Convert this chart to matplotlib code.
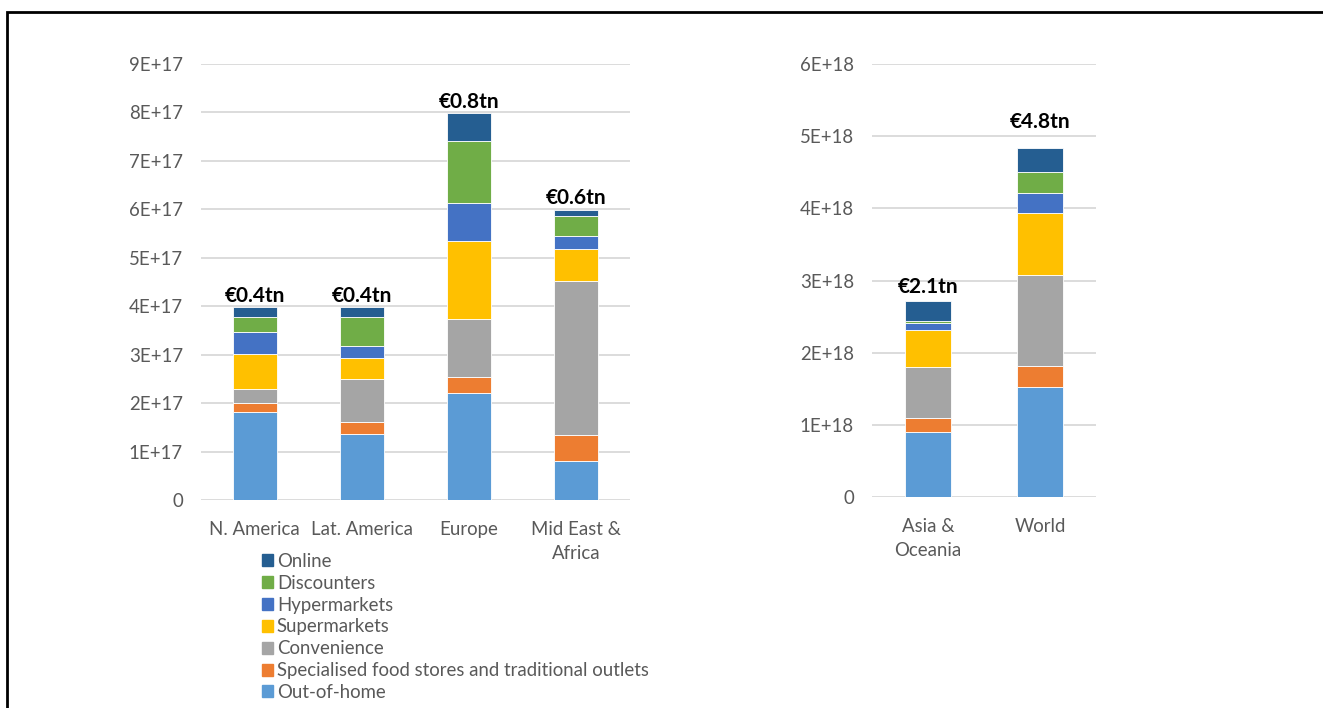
import matplotlib.pyplot as plt
import matplotlib.patches as mpatches
from matplotlib.ticker import FuncFormatter, MultipleLocator

plt.rcParams['font.family'] = ['Lato', 'DejaVu Sans']

channels = ['Out-of-home', 'Specialised food stores and traditional outlets',
            'Convenience', 'Supermarkets', 'Hypermarkets', 'Discounters', 'Online']
colors = ['#5B9BD5', '#ED7D31', '#A5A5A5', '#FFC000', '#4472C4', '#70AD47', '#255E91']

# regional sales, units of 1E+17
regions = ['N. America', 'Lat. America', 'Europe', 'Mid East &\nAfrica']
region_values = [
    [1.82, 1.37, 2.21, 0.81],   # Out-of-home
    [0.19, 0.24, 0.32, 0.54],   # Specialised food stores
    [0.28, 0.89, 1.21, 3.17],   # Convenience
    [0.73, 0.43, 1.61, 0.67],   # Supermarkets
    [0.44, 0.25, 0.79, 0.25],   # Hypermarkets
    [0.32, 0.60, 1.28, 0.43],   # Discounters
    [0.20, 0.20, 0.56, 0.12],   # Online
]
region_labels = ['€0.4tn', '€0.4tn', '€0.8tn', '€0.6tn']

# Asia and world, units of 1E+18
big = ['Asia &\nOceania', 'World']
big_values = [
    [0.90, 1.52],
    [0.19, 0.29],
    [0.71, 1.26],
    [0.51, 0.86],
    [0.10, 0.28],
    [0.03, 0.29],
    [0.27, 0.34],
]
big_labels = ['€2.1tn', '€4.8tn']

TEXT = '#595959'
GRID = '#D9D9D9'
FS = 13.4

fig = plt.figure(figsize=(13.23, 7.08), dpi=100)
ax1 = fig.add_axes([0.1519, 0.2938, 0.3243, 0.6158])
ax2 = fig.add_axes([0.6591, 0.2980, 0.1693, 0.6116])


def stacked(ax, cats, values, scale, ymax, step, exp, labels, label_pad):
    x = range(len(cats))
    bottom = [0.0] * len(cats)
    for vals, c in zip(values, colors):
        v = [a * scale for a in vals]
        ax.bar(x, v, width=0.41, bottom=bottom, color=c,
               edgecolor='white', linewidth=0.6, zorder=3)
        bottom = [b + a for b, a in zip(bottom, v)]
    for i, (tot, lab) in enumerate(zip(bottom, labels)):
        ax.annotate(lab, (i, tot), xytext=(0, label_pad[i]), textcoords='offset points',
                    ha='center', va='bottom', fontsize=15, fontweight='bold', color='black')
    ax.set_xlim(-0.5, len(cats) - 0.5)
    ax.set_ylim(0, ymax)
    ax.yaxis.set_major_locator(MultipleLocator(step))
    ax.yaxis.set_major_formatter(FuncFormatter(
        lambda v, p: '0' if v == 0 else f'{round(v / step):d}E+{exp}'))
    ax.set_xticks(list(x))
    ax.set_xticklabels(cats, linespacing=1.5)
    ax.grid(axis='y', color=GRID, linewidth=1.3, zorder=0)
    ax.tick_params(length=0, labelsize=FS, colors=TEXT)
    ax.tick_params(axis='y', pad=13)
    ax.tick_params(axis='x', pad=15)
    for s in ax.spines.values():
        s.set_visible(False)
    ax.set_axisbelow(True)


stacked(ax1, regions, region_values, 1e17, 9e17, 1e17, 17, region_labels, [1, 1, 1, 1])
stacked(ax2, big, big_values, 1e18, 6e18, 1e18, 18, big_labels, [3, 11])

handles = [mpatches.Patch(color=c, label=n) for n, c in zip(channels, colors)][::-1]
fig.legend(handles=handles, loc='upper left', bbox_to_anchor=(0.198, 0.219),
           frameon=False, fontsize=FS, labelcolor=TEXT, handlelength=0.62,
           handleheight=0.62, handletextpad=0.18, labelspacing=0.26,
           borderaxespad=0, borderpad=0)

# outer frame
fig.patches.append(mpatches.Rectangle((7 / 1323, -0.1), 1.2, 1.1 - 12 / 708,
                                      transform=fig.transFigure, fill=False,
                                      edgecolor='black', linewidth=2))

fig.savefig('out.png', dpi=100)
